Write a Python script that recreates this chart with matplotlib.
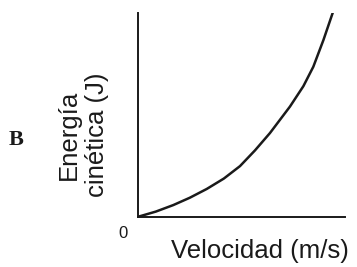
import matplotlib
matplotlib.use("Agg")
import matplotlib.pyplot as plt

# values (both axes scaled 0..1)
velocity = [0, 0.09, 0.18, 0.265, 0.352, 0.44, 0.523, 0.60, 0.677, 0.78, 0.849, 0.90, 0.952, 1.0]
energy = [0, 0.025, 0.057, 0.093, 0.136, 0.187, 0.248, 0.325, 0.41, 0.54, 0.64, 0.735, 0.866, 1.0]

INK = "#1a1a1a"

fig = plt.figure(figsize=(3.57, 2.67), dpi=100)
ax = fig.add_axes([0.3874, 0.1884, 0.579, 0.764])

ax.plot(velocity, energy, color=INK, linewidth=1.8, solid_joinstyle="round")
ax.set_xlim(0, 1.063)
ax.set_ylim(0, 1.0)

for side in ("top", "right"):
    ax.spines[side].set_visible(False)
for side in ("left", "bottom"):
    ax.spines[side].set_color(INK)
    ax.spines[side].set_linewidth(1.4)
ax.set_xticks([])
ax.set_yticks([])

fig.text(123 / 357, 1 - 233 / 267, "0", ha="center", va="center",
         fontsize=12, color=INK, family="Liberation Sans")
fig.text(260 / 357, 1 - 251 / 267, "Velocidad (m/s)", ha="center", va="center",
         fontsize=18.5, color=INK, family="Liberation Sans")
fig.text(83 / 357, 1 - 135 / 267, "Energía\ncinética (J)", ha="center", va="center",
         rotation=90, multialignment="center", linespacing=1.2,
         fontsize=18.5, color=INK, family="Liberation Sans")
fig.text(16.5 / 357, 1 - 140 / 267, "B", ha="center", va="center",
         fontsize=16, fontweight="bold", color=INK, family="Liberation Serif")

fig.savefig("out.png", dpi=100)
